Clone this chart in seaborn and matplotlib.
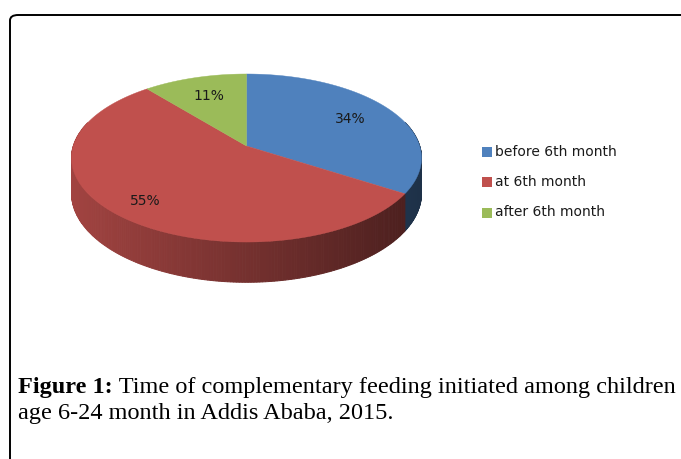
import numpy as np
import matplotlib
matplotlib.use("Agg")
import matplotlib.pyplot as plt
import seaborn as sns
from matplotlib.patches import Polygon, FancyBboxPatch
from matplotlib.colors import to_rgb

sns.set_theme(style="white")

# data
labels = ['before 6th month', 'at 6th month', 'after 6th month']
shares = [34, 55, 11]
pct_text = ['34%', '55%', '11%']
colors = ['#4F81BD', '#C0504D', '#9BBB59']
caption_bold = 'Figure 1:'
caption_rest = ' Time of complementary feeding initiated among children'
caption_line2 = 'age 6-24 month in Addis Ababa, 2015.'

# label distance from centre (fraction of radius), as Excel placed them
label_r = [0.72, 0.81, 0.70]

W, H = 681, 459
fig = plt.figure(figsize=(W / 100, H / 100), dpi=100)
ax = fig.add_axes([0, 0, 1, 1])
ax.set_xlim(0, W)
ax.set_ylim(H, 0)
ax.axis('off')

# perspective projection of the pie plane (pixels)
cx, cy = 246.5, 146.0
sx, sy = 173.2, 82.3
k = 0.143
h = 34.5


def proj(th, drop=0.0):
    u, v = np.cos(th), np.sin(th)
    d = 1 + k * v
    return cx + sx * u / d, cy - sy * v / d + drop / d


fr = np.array(shares) / np.sum(shares)
edges = np.deg2rad(90 - 360 * np.concatenate([[0], np.cumsum(fr)]))

# side of the cylinder, back to front, darker to the right
strips = []
for i, c in enumerate(colors):
    th = np.linspace(edges[i + 1], edges[i], 240)
    base = np.array(to_rgb(c))
    for t0, t1 in zip(th[:-1], th[1:]):
        if np.sin((t0 + t1) / 2) > 0.3:
            continue
        strips.append((np.sin((t0 + t1) / 2), t0, t1, base))
strips.sort(key=lambda s: -s[0])
for _, t0, t1, base in strips:
    x0, y0 = proj(t0)
    x1, y1 = proj(t1)
    x2, y2 = proj(t1, h)
    x3, y3 = proj(t0, h)
    xm = ((x0 + x1) / 2 - (cx - sx)) / (2 * sx)
    f = 0.84 - 0.46 * np.clip(xm, 0, 1)
    col = np.clip(base * f, 0, 1)
    ax.add_patch(Polygon([(x0, y0), (x1, y1), (x2, y2), (x3, y3)],
                         closed=True, facecolor=col, edgecolor=col,
                         lw=0.7, zorder=1))

# top face
for i, c in enumerate(colors):
    th = np.linspace(edges[i + 1], edges[i], 200)
    px, py = proj(th)
    pts = [(cx, cy)] + list(zip(px, py))
    ax.add_patch(Polygon(pts, closed=True, facecolor=c, edgecolor=c,
                         lw=0.3, zorder=2))

# percent labels
mids = (edges[:-1] + edges[1:]) / 2
for txt, m, r in zip(pct_text, mids, label_r):
    u, v = r * np.cos(m), r * np.sin(m)
    d = 1 + k * v
    ax.text(cx + sx * u / d, cy - sy * v / d, txt, ha='center', va='center',
            fontsize=10, family='DejaVu Sans', color='#1a1a1a', zorder=3)

# legend
for i, (lab, c) in enumerate(zip(labels, colors)):
    y = 151.5 + 30.5 * i
    ax.add_patch(plt.Rectangle((482, y - 5), 10, 10, facecolor=c,
                               edgecolor='none', zorder=3))
    ax.text(495, y, lab, ha='left', va='center', fontsize=10,
            family='DejaVu Sans', color='#1a1a1a')

# outer rounded frame
frame = FancyBboxPatch((10 / W, -0.2), 1.2, 1 - 15 / H + 0.2,
                       boxstyle='round,pad=0,rounding_size=0.012',
                       transform=fig.transFigure, fill=False,
                       edgecolor='black', lw=1.4, clip_on=False)
fig.patches.append(frame)

# caption
serif = 'Liberation Serif'
fs = 17.5
t1 = fig.text(18 / W, 1 - 388 / H, caption_bold, family=serif, weight='bold',
              fontsize=fs, va='center', ha='left', color='black')
fig.canvas.draw()
bb = t1.get_window_extent()
fig.text(bb.x1 / W, 1 - 388 / H, caption_rest, family=serif,
         fontsize=fs, va='center', ha='left', color='black')
fig.text(18 / W, 1 - 414 / H, caption_line2, family=serif,
         fontsize=fs, va='center', ha='left', color='black')

fig.savefig('out.png', dpi=100, facecolor='white')
